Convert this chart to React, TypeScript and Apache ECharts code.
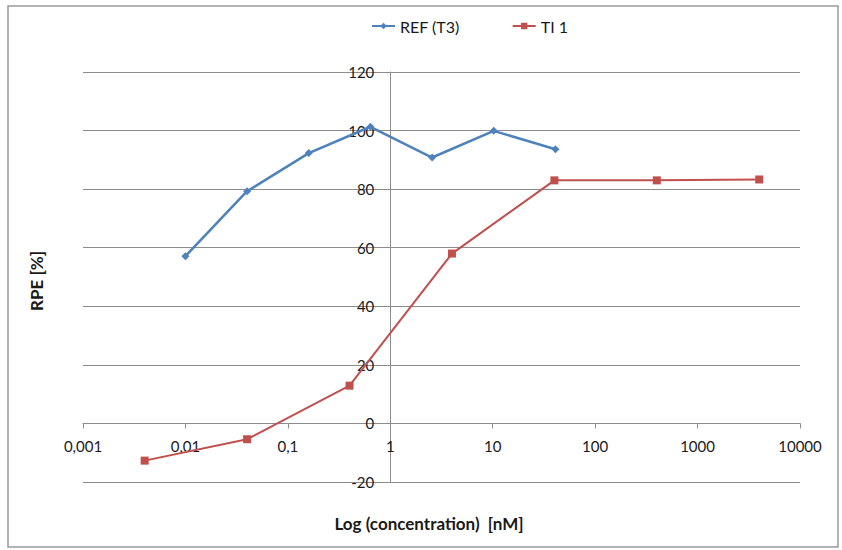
import React, { useEffect, useRef } from "react";
import * as echarts from "echarts";

const refX = [0.01, 0.04, 0.16, 0.64, 2.56, 10.24, 40.96];
const refY = [57.1, 79.3, 92.3, 101.3, 90.8, 99.9, 93.6];
const tiX = [0.004, 0.04, 0.4, 4, 40, 400, 4000];
const tiY = [-12.7, -5.4, 12.9, 58.0, 83.0, 83.0, 83.3];
const xTickLabels = ["0,001", "0,01", "0,1", "1", "10", "100", "1000", "10000"];
const seriesNames = ["REF (T3)", "TI 1"];

const FONT = "Lato, 'Liberation Sans', sans-serif";

export default function App() {
  const ref = useRef<HTMLDivElement>(null);
  useEffect(() => {
    if (!ref.current) return;
    const chart = echarts.init(ref.current, null, { renderer: "svg" });
    const gridLeft = 83;
    const gridRight = 42;
    const gridTop = 72;
    const gridBottom = 68;
    const gridW = 842 - gridLeft - gridRight;
    const gridH = 550 - gridTop - gridBottom;
    const yMin = -20;
    const yMax = 120;
    const yOffset = -(gridW * 3) / 7; // y axis crosses at x = 1
    const xOffset = -(gridH * (0 - yMin)) / (yMax - yMin); // x axis crosses at y = 0
    chart.setOption({
      animation: false,
      backgroundColor: "#ffffff",
      textStyle: { fontFamily: FONT },
      grid: { left: gridLeft, right: gridRight, top: gridTop, bottom: gridBottom },
      legend: {
        left: 371,
        top: 18,
        padding: 0,
        itemWidth: 23,
        itemHeight: 8,
        itemGap: 52,
        textStyle: { fontSize: 16, color: "#1a1a1a", fontFamily: FONT },
        data: seriesNames,
      },
      xAxis: {
        type: "log",
        logBase: 10,
        min: 0.001,
        max: 10000,
        offset: xOffset,
        axisLine: { show: true, onZero: false, lineStyle: { color: "#8c8c8c", width: 1 } },
        axisTick: { show: true, length: 5, lineStyle: { color: "#8c8c8c" } },
        minorTick: { show: false },
        splitLine: { show: false },
        axisLabel: {
          fontSize: 15,
          color: "#1a1a1a",
          margin: 15,
          fontFamily: FONT,
          formatter: (v: number) => {
            const i = Math.round(Math.log10(v)) + 3;
            return xTickLabels[i] ?? "";
          },
        },
      },
      yAxis: {
        type: "value",
        min: yMin,
        max: yMax,
        interval: 20,
        offset: yOffset,
        axisLine: { show: true, onZero: false, lineStyle: { color: "#8c8c8c", width: 1 } },
        axisTick: { show: false },
        splitLine: { show: true, lineStyle: { color: "#8c8c8c", width: 1 } },
        axisLabel: { fontSize: 15, color: "#1a1a1a", margin: 16, fontFamily: FONT },
      },
      graphic: [
        {
          type: "rect",
          shape: { x: 8, y: 6, width: 830, height: 541 },
          style: { fill: "none", stroke: "#999999", lineWidth: 1.5 },
          silent: true,
        },
        {
          type: "text",
          x: 429,
          y: 523,
          style: {
            text: "Log (concentration)  [nM]",
            font: `bold 17px ${FONT}`,
            fill: "#1a1a1a",
            align: "center",
            verticalAlign: "middle",
          },
        },
        {
          type: "text",
          x: 36,
          y: 281,
          rotation: Math.PI / 2,
          style: {
            text: "RPE [%]",
            font: `bold 17px ${FONT}`,
            fill: "#1a1a1a",
            align: "center",
            verticalAlign: "middle",
          },
        },
      ],
      series: [
        {
          name: seriesNames[0],
          type: "line",
          data: refX.map((x, i) => [x, refY[i]]),
          symbol: "diamond",
          symbolSize: 8,
          showSymbol: true,
          lineStyle: { color: "#4F81BD", width: 2.5 },
          itemStyle: { color: "#4F81BD" },
          z: 3,
        },
        {
          name: seriesNames[1],
          type: "line",
          data: tiX.map((x, i) => [x, tiY[i]]),
          symbol: "rect",
          symbolSize: 8,
          showSymbol: true,
          lineStyle: { color: "#C0504D", width: 2 },
          itemStyle: { color: "#C0504D" },
          z: 2,
        },
      ],
    });
    return () => chart.dispose();
  }, []);
  return (
    <div
      ref={ref}
      style={{ position: "fixed", left: 0, top: 0, width: 842, height: 550 }}
    />
  );
}
